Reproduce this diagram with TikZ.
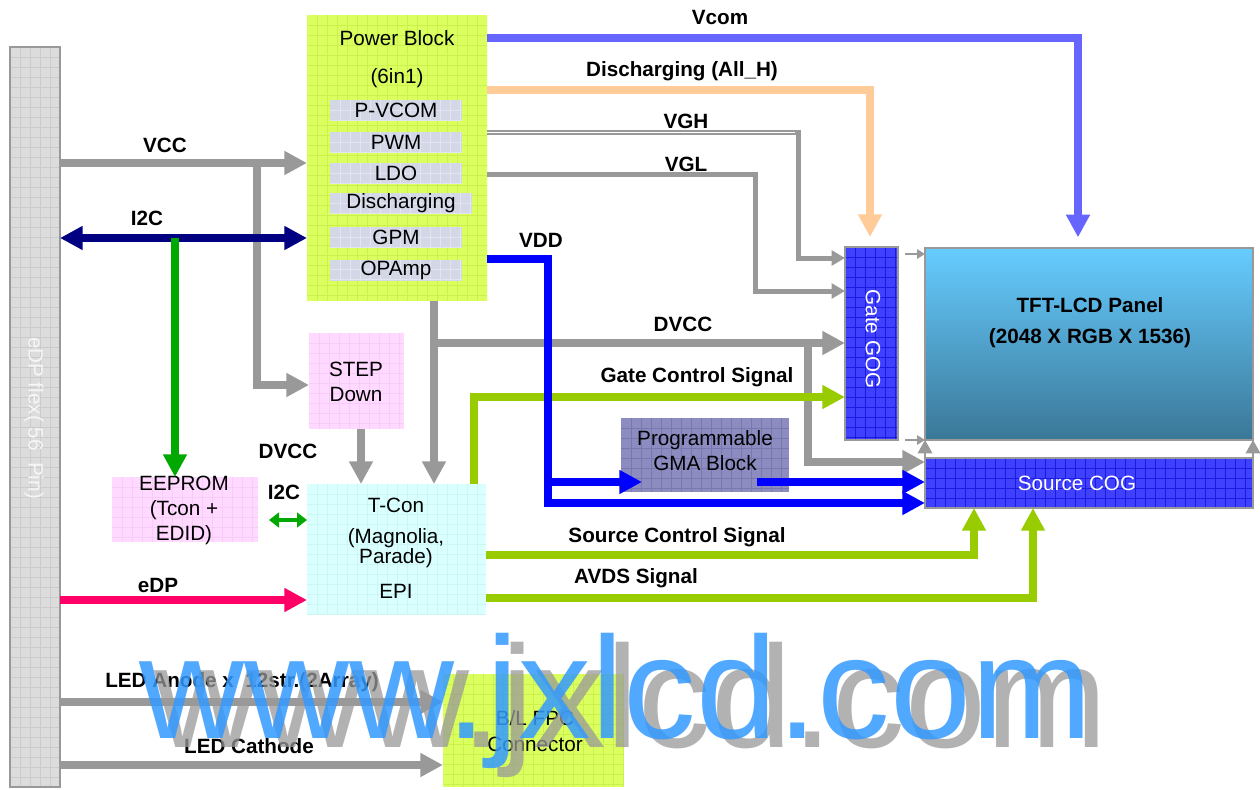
\documentclass[tikz,border=0pt]{standalone}
\usepackage{fontspec}
\setmainfont{Liberation Sans}
\usetikzlibrary{arrows.meta}
\definecolor{lgray}{HTML}{999999}
\definecolor{edpfill}{HTML}{DCDCDC}
\definecolor{edpgrid}{HTML}{CBCBCB}
\definecolor{limefill}{HTML}{DBFF5E}
\definecolor{limegrid}{HTML}{CBF24C}
\definecolor{subfill}{HTML}{D3D7E6}
\definecolor{subgrid}{HTML}{E2E4F2}
\definecolor{pinkfill}{HTML}{FFD9FF}
\definecolor{pinkgrid}{HTML}{F8CCF8}
\definecolor{cyanfill}{HTML}{D9FFFF}
\definecolor{cyangrid}{HTML}{CCF6F6}
\definecolor{gmafill}{HTML}{8C8CC0}
\definecolor{gmagrid}{HTML}{7878AE}
\definecolor{cogfill}{HTML}{4040FF}
\definecolor{coggrid}{HTML}{1A1AE0}
\definecolor{paneltop}{HTML}{66CCFF}
\definecolor{panelbot}{HTML}{3A7797}
\definecolor{navyc}{HTML}{000080}
\definecolor{eegreen}{HTML}{00A800}
\definecolor{edppink}{HTML}{FF0066}
\definecolor{vcomc}{HTML}{6666FF}
\definecolor{peach}{HTML}{FFCC99}
\definecolor{vddblue}{HTML}{0000FF}
\definecolor{sigl}{HTML}{99CC00}
\definecolor{wmblue}{HTML}{3399FF}
\definecolor{wmgray}{HTML}{999999}
\tikzset{
  txt/.style={font=\fontsize{15.5}{18}\selectfont, inner sep=0pt},
  lbl/.style={font=\fontsize{15.5}{18}\selectfont\bfseries, inner sep=0pt},
  box/.style 2 args={rectangle, minimum width=#1*0.75pt, minimum height=#2*0.75pt, inner sep=0pt, outer sep=0pt},
  gridded/.style={path picture={
     \foreach \i in {1,...,80}{
       \draw[#1, line width=0.5pt] ([xshift=\i*7.5pt]path picture bounding box.north west) -- ([xshift=\i*7.5pt]path picture bounding box.south west);
       \draw[#1, line width=0.5pt] ([yshift=-\i*7.5pt]path picture bounding box.north west) -- ([yshift=-\i*7.5pt]path picture bounding box.north east);
     }}},
  sub/.style={txt, box={132}{21}, fill=subfill, gridded=subgrid},
  gline/.style={draw=lgray, line width=5.75pt},
  gar/.style={gline, -{Triangle[length=17pt,width=17pt]}},
  thinar/.style={draw=lgray, line width=3.75pt, -{Triangle[length=10pt,width=11pt]}},
  smallar/.style={draw=lgray, line width=2pt, -{Triangle[length=6pt,width=7pt]}},
  upar/.style={draw=lgray, line width=1pt, -{Triangle[length=10pt,width=11pt]}},
  colar/.style={draw=#1, line width=5.75pt, -{Triangle[length=17pt,width=17pt]}},
  wm/.style={anchor=base west, inner sep=0pt, font=\fontsize{109}{109}\selectfont},
}
\begin{document}
\begin{tikzpicture}[x=0.75pt, y=-0.75pt]
\fill[white] (0,0) rectangle (1260,789);
\useasboundingbox (0,0) rectangle (1260,789);

% ---------- boxes ----------
\node[box={50}{740}, fill=edpfill, gridded=edpgrid, draw=lgray, line width=1.5pt] (edp) at (35,417) {};
\node[txt, rotate=-90, text=white!93!gray] (edpt) at (34,418) {eDP flex(\ 56\ \ Pin)};

\node[box={180}{286}, fill=limefill, gridded=limegrid] (pb) at (397,158) {};
\node[txt] (pbt1) at (397,38) {Power Block};
\node[txt] (pbt2) at (397,78) {(6in1)};
\node[sub] (pvcom) at (396,110.5) {P-VCOM};
\node[sub] (pwm) at (396,142.5) {PWM};
\node[sub] (ldo) at (396,173.5) {LDO};
\node[sub, minimum width=142*0.75pt] (dis) at (401,203.5) {Discharging};
\node[sub] (gpm) at (396,237.5) {GPM};
\node[sub] (opamp) at (396,270) {OPAmp};

\node[box={95}{96}, fill=pinkfill, gridded=pinkgrid] (sd) at (356.5,381) {};
\node[txt, align=center, font=\fontsize{15.5}{19}\selectfont] (sdt) at (356,382) {STEP\\Down};

\node[box={146}{65}, fill=pinkfill, gridded=pinkgrid] (ee) at (185,509.5) {};
\node[txt, align=center, font=\fontsize{15.5}{19}\selectfont] (eet) at (184,510.5) {EEPROM\\(Tcon +\\EDID)};

\node[box={179}{131}, fill=cyanfill, gridded=cyangrid] (tcon) at (396.5,549.5) {};
\node[txt] (tcont1) at (396,505) {T-Con};
\node[txt, align=center, font=\fontsize{15.5}{13.5}\selectfont] (tcont2) at (396,548) {(Magnolia,\\Parade)};
\node[txt] (tcont3) at (396,591) {EPI};

\node[box={168}{74}, fill=gmafill, gridded=gmagrid] (gma) at (705,455) {};
\node[txt, align=center, font=\fontsize{15.5}{18.75}\selectfont] (gmat) at (705,451) {Programmable\\GMA Block};

\node[box={53}{193}, fill=cogfill, gridded=coggrid, draw=lgray, line width=1.5pt] (gate) at (871.5,343.5) {};
\node[txt, rotate=-90, text=white] (gatet) at (873,339) {Gate GOG};

\node[box={328}{192}, top color=paneltop, bottom color=panelbot, draw=lgray, line width=1.5pt] (panel) at (1089,344) {};
\node[lbl, align=center, font=\fontsize{15.5}{23.25}\selectfont\bfseries] (panelt) at (1090,322.5) {TFT-LCD Panel\\(2048 X RGB X 1536)};

\node[box={328}{50}, fill=cogfill, gridded=coggrid, draw=lgray, line width=1.5pt] (source) at (1089,483) {};
\node[txt, text=white] (sourcet) at (1077,483) {Source COG};

\node[box={181}{113}, fill=limefill, gridded=limegrid] (bl) at (533.5,730.5) {};
\node[txt, align=center, font=\fontsize{15.5}{19.5}\selectfont] (blt) at (535,731.5) {B/L FPC\\Connector};

% ---------- junctions ----------
\coordinate (vccj) at (257,163);
\coordinate (vccb) at (257,385);
\coordinate (i2cj) at (175,238);
\coordinate (dvj) at (434,343);
\coordinate (dvb) at (808,343);
\coordinate (dvc) at (808,462);
\coordinate (vghc) at (798,258);
\coordinate (vglc) at (755,291);
\coordinate (vdd1) at (548,482);
\coordinate (vdd2) at (548,503);
\coordinate (gmain) at (642,482);
\coordinate (gmaout) at (757,482);
\coordinate (g1) at (905,254);
\coordinate (g2) at (905,440);
\coordinate (i2cs) at (269,520);

% ---------- gray connectors ----------
\draw[gar] (edp.east |- vccj) -- (pb.west |- vccj);
\draw[gar] (vccj) -- (vccb) -- (sd.west |- vccb);
\draw[gar] (sd.south -| 361,0) -- (tcon.north -| 361,0);
\draw[gar] (pb.south -| dvj) -- (tcon.north -| dvj);
\draw[gar] (dvj) -- (gate.west |- dvj);
\draw[gar] (dvb) -- (dvc) -- (source.west |- dvc);
\draw[thinar] (pb.east |- 0,132) -| (vghc) -- (gate.west |- vghc);
\draw[white, line width=0.7pt, shorten >=2.5pt] (pb.east |- 0,132.5) -- (vghc |- 0,132.5);
\draw[thinar] (pb.east |- 0,174) -| (vglc) -- (gate.west |- vglc);
\draw[smallar] (g1) -- (panel.west |- g1);
\draw[smallar] (g2) -- (panel.west |- g2);
\draw[upar] (source.north west) -- (panel.south west);
\draw[upar] (source.north east) -- (panel.south east);
\draw[gar] (edp.east |- 0,702) -- (bl.west |- 0,702);
\draw[gar] (edp.east |- 0,765) -- (bl.west |- 0,765);

% ---------- coloured connectors ----------
\draw[colar=peach, shorten >=7.5pt] (pb.east |- 0,90) -| (gate.north -| 870,0);
\draw[colar=vcomc, shorten >=8pt] (pb.east |- 0,38) -| (panel.north -| 1078,0);
\draw[colar=sigl] (tcon.north -| 474,0) |- (gate.west |- 0,397);
\draw[colar=sigl] (tcon.east |- 0,555) -| (source.south -| 974,0);
\draw[colar=sigl] (tcon.east |- 0,598) -| (source.south -| 1033,0);
\draw[colar=vddblue] (pb.east |- 0,259) -| (vdd2) -- (source.west |- vdd2);
\draw[colar=vddblue] (vdd1) -- (gmain);
\draw[colar=vddblue] (gmaout) -- (source.west |- gmaout);
\draw[colar=navyc, {Triangle[length=17pt,width=17pt]}-{Triangle[length=17pt,width=17pt]}] (edp.east |- i2cj) -- (pb.west |- i2cj);
\draw[colar=eegreen] (i2cj) -- (ee.north -| i2cj);
\draw[draw=eegreen, line width=3pt, {Triangle[length=7.5pt,width=11pt]}-{Triangle[length=7.5pt,width=11pt]}] (i2cs) -- (tcon.west |- i2cs);
\draw[colar=edppink] (edp.east |- 0,600) -- (tcon.west |- 0,600);

% ---------- labels ----------
\node[lbl] (lvcom) at (720,17) {Vcom};
\node[lbl] (ldis) at (682,71) {Discharging (All\_H)};
\node[lbl] (lvgh) at (686,121) {VGH};
\node[lbl] (lvgl) at (686,164) {VGL};
\node[lbl] (lvdd) at (541,240) {VDD};
\node[lbl] (ldvcc) at (683,324) {DVCC};
\node[lbl] (lgcs) at (697,377) {Gate Control Signal};
\node[lbl] (lscs) at (677,537) {Source Control Signal};
\node[lbl] (lavds) at (636,578) {AVDS Signal};
\node[lbl] (lvcc) at (165,145) {VCC};
\node[lbl] (li2c) at (147,218) {I2C};
\node[lbl] (ldvcc2) at (288,451) {DVCC};
\node[lbl] (li2c2) at (284,492) {I2C};
\node[lbl] (ledp) at (158,585) {eDP};
\node[lbl] (lanode) at (242,682) {LED Anode x\ \ 12str.(2Array)};
\node[lbl] (lcath) at (249,746) {LED Cathode};

% ---------- watermark ----------
\node[wm, text=wmgray, opacity=0.75] (wm2) at (154,747) {www.jxlcd.com};
\node[wm, text=wmblue, opacity=0.85] (wm1) at (139,738) {www.jxlcd.com};
\end{tikzpicture}
\end{document}
